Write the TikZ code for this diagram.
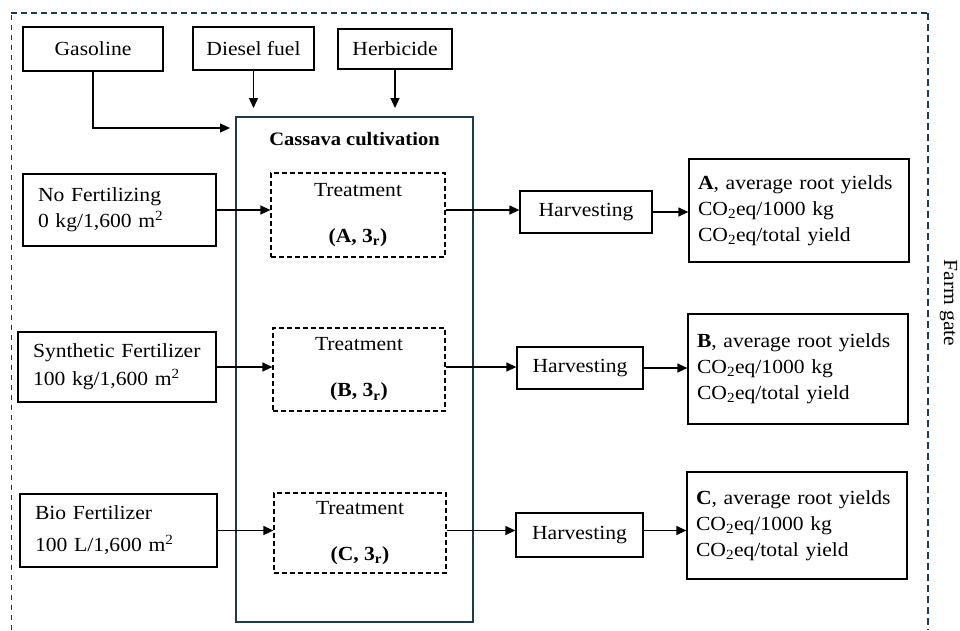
\documentclass[tikz,border=0pt]{standalone}
\usepackage{fontspec}
\setmainfont{Liberation Serif}[FakeStretch=1.08]
\usetikzlibrary{arrows.meta}
\definecolor{navy}{HTML}{1E3A4C}
\begin{document}
\begin{tikzpicture}[x=1pt,y=-1pt, font=\fontsize{20}{26}\selectfont,
  box/.style={draw, line width=1.3pt, inner sep=0pt, align=center},
  dbox/.style={draw, line width=1.2pt, dash pattern=on 5pt off 3pt, inner sep=0pt, align=center},
  lbox/.style={draw, line width=1.3pt, inner ysep=0pt, inner xsep=15pt, align=left},
  rbox/.style={draw, line width=1.3pt, inner ysep=0pt, inner xsep=9pt, text width=202pt, align=left},
  arr/.style={line width=1.3pt, -{Triangle[length=10pt,width=9pt]}},
]
\useasboundingbox (0,0) rectangle (960,630);

% farm gate frame
\coordinate (f1) at (11,630);
\coordinate (f2) at (11,13);
\coordinate (f3) at (928,13);
\coordinate (f4) at (928,630);
\draw[navy, line width=0.9pt, dash pattern=on 5pt off 5pt] (f1) -- (f2);
\draw[navy, line width=1.3pt, dash pattern=on 6pt off 4pt] (f2) -- (f3);
\draw[navy, line width=2pt, dash pattern=on 7pt off 4pt] (f3) -- (f4);
\node[rotate=-90, anchor=base, inner sep=0pt] (fg) at (944,303) {Farm gate};

% top inputs
\node[box, minimum width=140pt, minimum height=44pt] (gas) at (93,49) {Gasoline};
\node[box, minimum width=121pt, minimum height=43pt] (diesel) at (253.5,48.5) {Diesel fuel};
\node[box, minimum width=114pt, minimum height=40pt] (herb) at (395,49) {Herbicide};

% cassava cultivation
\node[draw=navy, line width=1.5pt, minimum width=237pt, minimum height=505pt, inner sep=0pt] (cass) at (354.5,369.5) {};
\node[font=\bfseries\fontsize{19}{24}\selectfont] (title) at (354.5,139) {Cassava cultivation};

% treatments
\node[dbox, minimum width=174pt, minimum height=84pt] (tA) at (358,215) {Treatment\\[20pt]\textbf{(A, 3\textsubscript{r})}};
\node[dbox, minimum width=172pt, minimum height=83pt] (tB) at (359,369.5) {Treatment\\[20pt]\textbf{(B, 3\textsubscript{r})}};
\node[dbox, minimum width=172pt, minimum height=80pt] (tC) at (360,533) {Treatment\\[20pt]\textbf{(C, 3\textsubscript{r})}};

% fertilizer inputs
\node[lbox, text width=163pt, minimum height=72pt] (nofert) at (119.5,210) {No Fertilizing\\0 kg/1,600 m\textsuperscript{2}};
\node[lbox, text width=168pt, minimum height=70pt] (synth) at (117,367) {Synthetic Fertilizer\\[2pt]100 kg/1,600 m\textsuperscript{2}};
\node[lbox, text width=167pt, minimum height=73pt] (bio) at (118.5,530.5) {Bio Fertilizer\\[6pt]100 L/1,600 m\textsuperscript{2}};

% harvesting
\node[box, minimum width=132pt, minimum height=42pt] (hA) at (586,212) {Harvesting};
\node[box, minimum width=126pt, minimum height=42pt] (hB) at (580,368) {Harvesting};
\node[box, minimum width=127pt, minimum height=44pt] (hC) at (579.5,535) {Harvesting};

% results
\node[rbox, minimum height=103pt] (rA) at (799,210.5) {\textbf{A}, average root yields\\CO\textsubscript{2}eq/1000 kg\\CO\textsubscript{2}eq/total yield};
\node[rbox, minimum height=110pt] (rB) at (798,369) {\textbf{B}, average root yields\\CO\textsubscript{2}eq/1000 kg\\CO\textsubscript{2}eq/total yield};
\node[rbox, minimum height=107pt] (rC) at (797,525.5) {\textbf{C}, average root yields\\CO\textsubscript{2}eq/1000 kg\\CO\textsubscript{2}eq/total yield};

% top arrows
\coordinate (gtip) at (230,128);
\coordinate (dtip) at (253.5,108);
\coordinate (htip) at (395,108);
\draw[arr] (gas.south) |- (gtip);
\draw[arr] (diesel.south) -- (dtip);
\draw[arr] (herb.south) -- (htip);

% row A
\draw[arr] (nofert.east) -- (nofert.east -| tA.west);
\draw[arr] (tA.east |- nofert.east) -- (hA.west |- nofert.east);
\draw[arr] (hA.east) -- (hA.east -| rA.west);
% row B
\draw[arr] (synth.east) -- (synth.east -| tB.west);
\draw[arr] (tB.east |- synth.east) -- (hB.west |- synth.east);
\draw[arr] (hB.east) -- (hB.east -| rB.west);
% row C
\draw[arr] (bio.east) -- (bio.east -| tC.west);
\draw[arr] (tC.east |- bio.east) -- (hC.west |- bio.east);
\draw[arr] (hC.east |- bio.east) -- (rC.west |- bio.east);
\end{tikzpicture}
\end{document}
